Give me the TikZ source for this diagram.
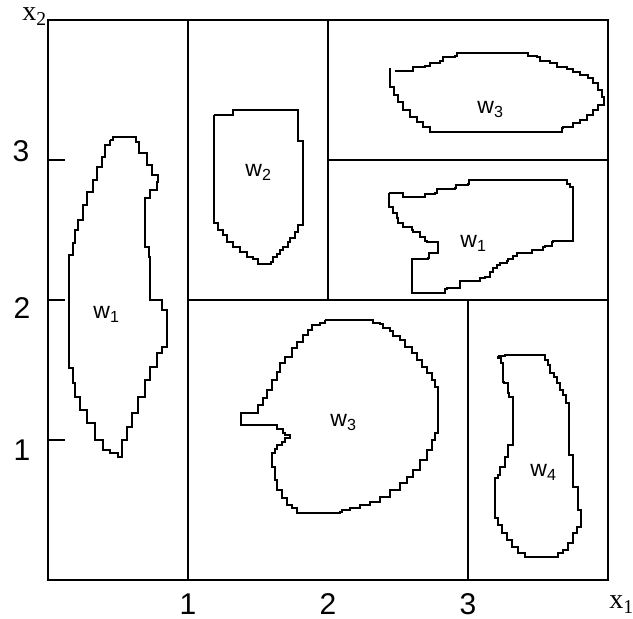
\documentclass[tikz,border=0pt]{standalone}
\usepackage{fontspec}
\setmainfont{Liberation Sans}
\newfontfamily\axisfont{Liberation Serif}
\tikzset{
  frame/.style={line width=1pt},
  blob/.style={line width=1pt,line join=miter},
  wlabel/.style={font=\fontsize{11.5}{14}\selectfont,inner sep=0pt,anchor=base west},
  ticklabel/.style={font=\fontsize{15}{18}\selectfont,inner sep=0pt},
  axislabel/.style={font=\axisfont\fontsize{14}{16}\selectfont,inner sep=0pt,anchor=base west}
}
\begin{document}
\begin{tikzpicture}[x=0.5pt,y=-0.5pt]
\useasboundingbox (0,0) rectangle (633,619);
% Frame and partition
    \draw[frame] (48,20) rectangle (608,580);
    \draw[frame] (188,20) -- (188,580);
    \draw[frame] (328,20) -- (328,300);
    \draw[frame] (468,300) -- (468,580);
    \draw[frame] (188,300) -- (608,300);
    \draw[frame] (328,160) -- (608,160);
    \foreach \y in {160,300,440,580} \draw[frame] (48,\y) -- (65,\y);
% Regions
    % left w1
    \draw[blob] plot[const plot] coordinates {(110,140) (113,137) (122,137) (136,142) (139,153) (147,165) (152,175) (158,182) (157,190) (150,198) (145,207) (145,247) (149,257) (150,268) (150,300) (156,300) (162,310) (167,320) (167,347) (162,353) (157,367) (150,380) (145,397) (138,413) (132,427) (127,440) (122,450) (122,457) (118,457) (118,453) (110,450) (103,440) (95,423) (87,410) (80,397) (75,383) (73,368) (69,368) (69,255) (73,243) (75,230) (78,220) (83,205) (87,192) (93,180) (97,167) (102,157) (105,145) (110,140)};
    % w2
    \draw[blob] plot[const plot] coordinates {(214,115) (233,115) (233,110) (298,110) (298,141) (303,141) (303,225) (298,226) (298,232) (295,233) (295,238) (290,242) (288,247) (283,250) (280,254) (277,257) (273,262) (271,264) (263,264) (258,259) (253,257) (247,252) (240,247) (233,242) (227,235) (223,230) (218,223) (214,215) (214,115)};
    % top w3
    \draw[blob] plot[const plot] coordinates {(395,71) (412,71) (413,67) (425,66) (430,63) (440,61) (443,57) (455,56) (457,53) (527,53) (528,56) (537,57) (540,61) (550,63) (557,67) (567,69) (573,72) (580,75) (588,78) (593,83) (598,90) (602,97) (604,97) (604,105) (600,105) (598,110) (593,115) (587,120) (580,123) (573,127) (563,128) (562,132) (435,132) (430,127) (423,122) (417,117) (410,110) (403,102) (398,95) (394,87) (390,78) (390,68)};
    % right w1
    \draw[blob] plot[const plot] coordinates {(389,193) (403,193) (403,197) (423,197) (425,194) (435,193) (437,189) (455,188) (456,185) (468,184) (469,180) (565,180) (567,184) (570,187) (573,189) (573,241) (553,242) (552,246) (545,247) (543,250) (533,250) (532,253) (517,256) (513,259) (508,261) (507,263) (500,265) (497,268) (493,272) (490,277) (485,278) (480,281) (460,285) (460,288) (447,289) (445,293) (415,293) (412,289) (412,259) (428,258) (429,253) (438,253) (438,242) (427,241) (425,237) (420,236) (420,232) (413,230) (412,227) (405,227) (403,223) (398,218) (397,213) (393,212) (393,207) (389,205) (389,193)};
    % bottom w3
    \draw[blob] plot[const plot] coordinates {(325,320) (372,320) (373,323) (380,324) (383,328) (390,331) (393,336) (400,340) (405,347) (412,353) (417,360) (422,367) (427,373) (432,380) (435,387) (438,395) (438,433) (435,440) (432,450) (427,460) (420,470) (413,477) (407,483) (400,490) (390,497) (380,502) (370,505) (360,508) (350,510) (342,512) (340,513) (298,513) (297,508) (292,505) (287,498) (282,490) (277,480) (275,467) (272,453) (275,449) (277,445) (282,442) (285,438) (290,437) (290,435) (285,433) (283,429) (277,427) (277,425) (241,425) (241,413) (257,413) (258,405) (263,398) (267,390) (272,380) (277,372) (280,363) (285,357) (292,348) (297,342) (303,335) (308,330) (312,325) (320,323) (325,320)};
    % w4
    \draw[blob] plot[const plot] coordinates {(498,356) (505,355) (543,355) (545,360) (548,365) (550,373) (554,377) (557,383) (560,390) (563,395) (566,403) (569,412) (569,455) (573,457) (573,487) (578,490) (578,510) (581,512) (581,527) (577,533) (573,543) (568,550) (563,553) (558,557) (530,557) (525,553) (518,547) (512,540) (507,533) (502,525) (498,518) (495,512) (495,478) (498,475) (500,467) (505,457) (508,445) (513,440) (513,397) (509,393) (508,383) (504,382) (503,363) (501,358) (498,356)};
% Region labels
    \node[wlabel] (wone) at (93,319) {w\textsubscript{1}};
    \node[wlabel] (wtwo) at (245,177) {w\textsubscript{2}};
    \node[wlabel] (wthreetop) at (477,114) {w\textsubscript{3}};
    \node[wlabel] (woneright) at (460,248) {w\textsubscript{1}};
    \node[wlabel] (wthree) at (330,427) {w\textsubscript{3}};
    \node[wlabel] (wfour) at (530,477) {w\textsubscript{4}};
% Tick labels
    \node[ticklabel] (ythree) at (21,151) {3};
    \node[ticklabel] (ytwo) at (22,308) {2};
    \node[ticklabel] (yone) at (22,450) {1};
    \node[ticklabel] (xone) at (188,604) {1};
    \node[ticklabel] (xtwo) at (328,604) {2};
    \node[ticklabel] (xthree) at (468,604) {3};
% Axis labels
    \node[axislabel] (xaxis) at (609,609) {x\textsubscript{1}};
    \node[axislabel] (yaxis) at (22,21) {x\textsubscript{2}};
\end{tikzpicture}
\end{document}
